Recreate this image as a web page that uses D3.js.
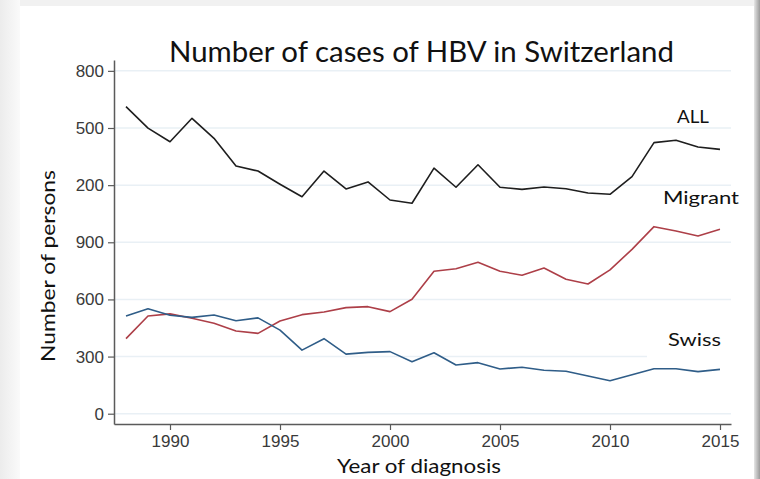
<!DOCTYPE html>
<html>
<head>
<meta charset="utf-8">
<script src="https://cdn.jsdelivr.net/npm/d3@7"></script>
<style>
  html, body { margin: 0; padding: 0; background: #fff; }
  svg { display: block; }
</style>
</head>
<body>
<script>
// HBV cases in Switzerland

var years = d3.range(1988, 2016);

// ALL (upper band; the axis only shows the last three digits)
var allCases = [1612, 1499, 1428, 1551, 1446, 1301, 1274, 1205, 1139, 1274,
                1180, 1217, 1122, 1105, 1289, 1189, 1307, 1189, 1178, 1190,
                1181, 1159, 1152, 1245, 1423, 1436, 1400, 1388];

var migrantCases = [394, 513, 524, 501, 475, 434, 422, 487, 520, 534,
                    557, 562, 536, 601, 748, 761, 795, 748, 727, 765,
                    706, 681, 755, 863, 982, 959, 933, 968];

var swissCases = [513, 551, 517, 506, 518, 488, 503, 439, 334, 394,
                  313, 322, 326, 273, 320, 256, 268, 235, 244, 228,
                  223, 198, 173, 205, 236, 236, 221, 233];

var seriesNames = ["ALL", "Migrant", "Swiss"];
var xTicks = [1990, 1995, 2000, 2005, 2010, 2015];
var yTicks = [0, 300, 600, 900, 1200, 1500, 1800];
var yTickLabels = ["0", "300", "600", "900", "200", "500", "800"];

var width = 760, height = 479;
var calibri = "Lato, 'Open Sans', sans-serif";
var arial = "'Liberation Sans', Arial, sans-serif";

var svg = d3.select("body").append("svg")
  .attr("width", width)
  .attr("height", height);

// slide frame with soft shadow
var defs = svg.append("defs");
var lg = defs.append("linearGradient").attr("id", "leftShade");
lg.append("stop").attr("offset", "0%").attr("stop-color", "#ececec");
lg.append("stop").attr("offset", "100%").attr("stop-color", "#fafafa");
var rg = defs.append("linearGradient").attr("id", "rightShade");
rg.append("stop").attr("offset", "0%").attr("stop-color", "#e6e6e6");
rg.append("stop").attr("offset", "100%").attr("stop-color", "#9a9a9a");

svg.append("rect").attr("width", width).attr("height", height).attr("fill", "#f1f1f1");
svg.append("rect").attr("x", 0).attr("y", 0).attr("width", 20).attr("height", height).attr("fill", "url(#leftShade)");
svg.append("rect").attr("x", 754).attr("y", 0).attr("width", 6).attr("height", height).attr("fill", "url(#rightShade)");
svg.append("rect").attr("x", 20).attr("y", 6).attr("width", 734).attr("height", height).attr("fill", "#fff");

var x = d3.scaleLinear().domain([1987.4545, 2015.5]).range([114, 731]);
var y = d3.scaleLinear().domain([-54, 1857]).range([424, 60]);

// gridlines
svg.append("g")
  .selectAll("line")
  .data(yTicks)
  .join("line")
  .attr("x1", 115)
  .attr("x2", 731)
  .attr("y1", d => y(d))
  .attr("y2", d => y(d))
  .attr("stroke", "#e9f0f5")
  .attr("stroke-width", 1.5);

// axes
var yAxis = d3.axisLeft(y)
  .tickValues(yTicks)
  .tickFormat((d, i) => yTickLabels[i])
  .tickSize(6)
  .tickPadding(4)
  .tickSizeOuter(0);

var xAxis = d3.axisBottom(x)
  .tickValues(xTicks)
  .tickFormat(d3.format("d"))
  .tickSize(6)
  .tickPadding(5)
  .tickSizeOuter(0);

var gy = svg.append("g").attr("transform", "translate(114,0)").call(yAxis);
var gx = svg.append("g").attr("transform", "translate(0,424)").call(xAxis);

[gx, gy].forEach(function (g) {
  g.select(".domain").attr("stroke", "#5a5a5a").attr("stroke-width", 1.5);
  g.selectAll(".tick line").attr("stroke", "#5a5a5a").attr("stroke-width", 1.2);
  g.selectAll(".tick text")
    .attr("fill", "#3a3a3a")
    .style("font-family", arial)
    .style("font-size", "17px");
});

// lines
var line = d3.line()
  .x((d, i) => x(years[i]))
  .y(d => y(d));

var lineData = [
  { name: "ALL", values: allCases, color: "#1e1e1e" },
  { name: "Migrant", values: migrantCases, color: "#ad3f48" },
  { name: "Swiss", values: swissCases, color: "#2f5d88" }
];

svg.append("g")
  .selectAll("path")
  .data(lineData)
  .join("path")
  .attr("d", d => line(d.values))
  .attr("fill", "none")
  .attr("stroke", d => d.color)
  .attr("stroke-width", 1.6)
  .attr("stroke-linejoin", "round");

// series labels (white box behind Swiss hides the grid line)
svg.append("rect").attr("x", 647).attr("y", 322).attr("width", 84).attr("height", 38).attr("fill", "#fff");

var labelPos = [
  { x: 677, y: 123, w: 32 },
  { x: 663, y: 204, w: 76 },
  { x: 668, y: 346, w: 53 }
];

svg.append("g")
  .selectAll("text")
  .data(seriesNames)
  .join("text")
  .attr("x", (d, i) => labelPos[i].x)
  .attr("y", (d, i) => labelPos[i].y)
  .attr("textLength", (d, i) => labelPos[i].w)
  .attr("lengthAdjust", "spacingAndGlyphs")
  .style("font-family", calibri)
  .style("font-size", "18px")
  .attr("fill", "#111")
  .text(d => d);

// title
svg.append("text")
  .attr("x", 169)
  .attr("y", 62)
  .attr("textLength", 505)
  .attr("lengthAdjust", "spacingAndGlyphs")
  .style("font-family", calibri)
  .style("font-size", "28px")
  .attr("fill", "#111")
  .text("Number of cases of HBV in Switzerland");

// axis titles
svg.append("text")
  .attr("x", 337)
  .attr("y", 473)
  .attr("textLength", 164)
  .attr("lengthAdjust", "spacingAndGlyphs")
  .style("font-family", calibri)
  .style("font-size", "20px")
  .attr("fill", "#111")
  .text("Year of diagnosis");

svg.append("text")
  .attr("transform", "translate(55,362) rotate(-90)")
  .attr("textLength", 192)
  .attr("lengthAdjust", "spacingAndGlyphs")
  .style("font-family", calibri)
  .style("font-size", "20px")
  .attr("fill", "#111")
  .text("Number of persons");
</script>
</body>
</html>
